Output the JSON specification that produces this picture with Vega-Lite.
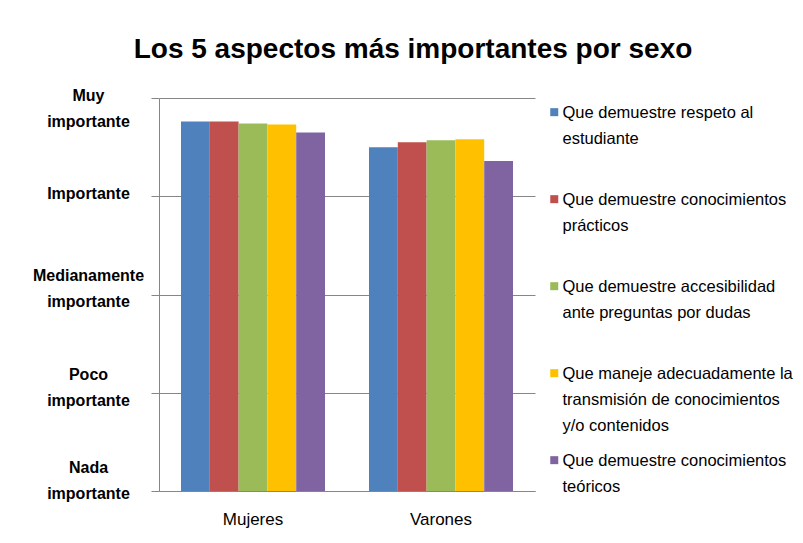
{
  "$schema": "https://vega.github.io/schema/vega-lite/v6.json",
  "autosize": {"type": "none"},
  "padding": {"left": 159, "top": 98, "right": 268, "bottom": 52},
  "width": 376,
  "height": 393,
  "background": "white",
  "title": {
    "text": "Los 5 aspectos más importantes por sexo",
    "font": "Liberation Sans",
    "fontSize": 28,
    "fontWeight": "bold",
    "color": "black",
    "anchor": "middle",
    "frame": "group",
    "baseline": "alphabetic",
    "offset": 1,
    "dx": 66
  },
  "data": {
    "values": [
      {"sexo": "Mujeres", "aspecto": "Que demuestre respeto al estudiante", "valor": 4.76},
      {"sexo": "Mujeres", "aspecto": "Que demuestre conocimientos prácticos", "valor": 4.76},
      {"sexo": "Mujeres", "aspecto": "Que demuestre accesibilidad ante preguntas por dudas", "valor": 4.74},
      {"sexo": "Mujeres", "aspecto": "Que maneje adecuadamente la transmisión de conocimientos y/o contenidos", "valor": 4.73},
      {"sexo": "Mujeres", "aspecto": "Que demuestre conocimientos teóricos", "valor": 4.65},
      {"sexo": "Varones", "aspecto": "Que demuestre respeto al estudiante", "valor": 4.50},
      {"sexo": "Varones", "aspecto": "Que demuestre conocimientos prácticos", "valor": 4.55},
      {"sexo": "Varones", "aspecto": "Que demuestre accesibilidad ante preguntas por dudas", "valor": 4.57},
      {"sexo": "Varones", "aspecto": "Que maneje adecuadamente la transmisión de conocimientos y/o contenidos", "valor": 4.58},
      {"sexo": "Varones", "aspecto": "Que demuestre conocimientos teóricos", "valor": 4.36}
    ]
  },
  "mark": {"type": "bar"},
  "encoding": {
    "x": {
      "field": "sexo",
      "type": "nominal",
      "scale": {"paddingInner": 0.234, "paddingOuter": 0.117},
      "axis": {
        "title": null,
        "labelAngle": 0,
        "ticks": false,
        "tickSize": 0,
        "labelPadding": 20,
        "labelFont": "Liberation Sans",
        "labelFontSize": 17,
        "labelColor": "black",
        "domainColor": "#868686",
        "domainWidth": 1
      }
    },
    "xOffset": {
      "field": "aspecto",
      "type": "nominal",
      "sort": [
        "Que demuestre respeto al estudiante",
        "Que demuestre conocimientos prácticos",
        "Que demuestre accesibilidad ante preguntas por dudas",
        "Que maneje adecuadamente la transmisión de conocimientos y/o contenidos",
        "Que demuestre conocimientos teóricos"
      ]
    },
    "y": {
      "field": "valor",
      "type": "quantitative",
      "scale": {"domain": [1, 5], "zero": false, "nice": false},
      "axis": {
        "title": null,
        "values": [1, 2, 3, 4, 5],
        "labelExpr": "datum.value == 5 ? ['Muy', 'importante'] : datum.value == 4 ? 'Importante' : datum.value == 3 ? ['Medianamente', 'importante'] : datum.value == 2 ? ['Poco', 'importante'] : ['Nada', 'importante']",
        "labelAlign": "center",
        "labelBaseline": "middle",
        "labelPadding": 63,
        "labelLineHeight": 26,
        "labelOffset": {
          "condition": [
            {"test": "datum.value == 1", "value": -24},
            {"test": "datum.value == 2", "value": -18},
            {"test": "datum.value == 3", "value": -19}
          ],
          "value": -3
        },
        "labelFont": "Liberation Sans",
        "labelFontSize": 16,
        "labelFontWeight": "bold",
        "labelColor": "black",
        "tickSize": 8,
        "tickColor": "#868686",
        "domainColor": "#868686",
        "gridColor": "#868686",
        "grid": true
      }
    },
    "y2": {"datum": 1},
    "color": {
      "field": "aspecto",
      "type": "nominal",
      "scale": {
        "domain": [
          "Que demuestre respeto al estudiante",
          "Que demuestre conocimientos prácticos",
          "Que demuestre accesibilidad ante preguntas por dudas",
          "Que maneje adecuadamente la transmisión de conocimientos y/o contenidos",
          "Que demuestre conocimientos teóricos"
        ],
        "range": ["#4F81BD", "#C0504D", "#9BBB59", "#FFC000", "#8064A2"]
      },
      "legend": {
        "title": null,
        "orient": "none",
        "legendX": 387,
        "legendY": -1,
        "symbolType": "M-1,0.73H1V2.73H-1Z",
        "symbolSize": 64,
        "symbolStrokeWidth": 0,
        "labelBaseline": "top",
        "labelOffset": 0,
        "labelFont": "Liberation Sans",
        "labelFontSize": 16.5,
        "labelColor": "black",
        "labelLimit": 400,
        "gridAlign": "all",
        "rowPadding": 10,
        "labelExpr": "datum.label == 'Que demuestre respeto al estudiante' ? ['Que demuestre respeto al', 'estudiante'] : datum.label == 'Que demuestre conocimientos prácticos' ? ['Que demuestre conocimientos', 'prácticos'] : datum.label == 'Que demuestre accesibilidad ante preguntas por dudas' ? ['Que demuestre accesibilidad', 'ante preguntas por dudas'] : datum.label == 'Que demuestre conocimientos teóricos' ? ['Que demuestre conocimientos', 'teóricos'] : ['Que maneje adecuadamente la', 'transmisión de conocimientos', 'y/o contenidos']"
      }
    }
  },
  "config": {
    "view": {"stroke": null},
    "style": {"guide-label": {"lineHeight": 26}}
  }
}
